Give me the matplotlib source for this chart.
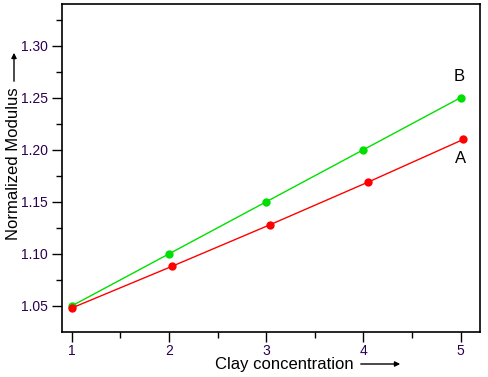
import matplotlib
matplotlib.use("Agg")
import matplotlib.pyplot as plt

# series
clay_a = [1.0, 2.03, 3.04, 4.05, 5.03]
modulus_a = [1.048, 1.088, 1.128, 1.169, 1.210]
clay_b = [1.0, 2.0, 3.0, 4.0, 5.0]
modulus_b = [1.050, 1.100, 1.150, 1.200, 1.250]
x_ticks = [1, 2, 3, 4, 5]
y_ticks = [1.05, 1.10, 1.15, 1.20, 1.25, 1.30]

plt.rcParams["font.family"] = ["Liberation Sans", "DejaVu Sans"]

fig = plt.figure(figsize=(4.88, 3.77), dpi=100)
ax = fig.add_axes([0.127, 0.1194, 0.8566, 0.87])

ax.plot(clay_b, modulus_b, color="#00e000", linewidth=1.0, marker="o",
        markersize=6, markeredgewidth=0)
ax.plot(clay_a, modulus_a, color="#ff0000", linewidth=1.0, marker="o",
        markersize=6, markeredgewidth=0)

ax.text(4.99, 1.270, "B", fontsize=12, ha="center", va="center")
ax.text(5.0, 1.192, "A", fontsize=12, ha="center", va="center")

ax.set_xlim(0.9, 5.2)
ax.set_ylim(1.025, 1.34)
ax.set_xticks(x_ticks)
ax.set_xticklabels([str(t) for t in x_ticks], color="#2a0050")
ax.set_yticks(y_ticks)
ax.set_yticklabels([f"{t:.2f}" for t in y_ticks], color="#2a0050")
ax.set_xticks([1.5, 2.5, 3.5, 4.5], minor=True)
ax.set_yticks([1.075, 1.125, 1.175, 1.225, 1.275, 1.325], minor=True)
ax.tick_params(which="major", direction="out", length=7, width=1, labelsize=10)
ax.tick_params(axis="x", which="major", pad=2)
ax.tick_params(axis="y", which="major", pad=3)
ax.tick_params(which="minor", direction="out", length=4, width=1)
ax.tick_params(axis="x", which="both", top=False)
ax.tick_params(axis="y", which="both", right=False)
for s in ax.spines.values():
    s.set_linewidth(1.2)

# axis titles with arrows, Origin style
fig.text(215 / 488, 1 - 365 / 377, "Clay concentration", fontsize=12,
         ha="left", va="center")
fig.add_artist(matplotlib.patches.FancyArrowPatch(
    (358 / 488, 1 - 364 / 377), (403 / 488, 1 - 364 / 377),
    transform=fig.transFigure, arrowstyle="-|>,head_length=3,head_width=1.5",
    color="black", linewidth=1))
fig.text(14 / 488, 1 - 164 / 377, "Normalized Modulus", fontsize=12,
         rotation=90, ha="center", va="center")
fig.add_artist(matplotlib.patches.FancyArrowPatch(
    (14 / 488, 1 - 84 / 377), (14 / 488, 1 - 50 / 377),
    transform=fig.transFigure, arrowstyle="-|>,head_length=3,head_width=1.5",
    color="black", linewidth=1))

fig.savefig("out.png", dpi=100)
